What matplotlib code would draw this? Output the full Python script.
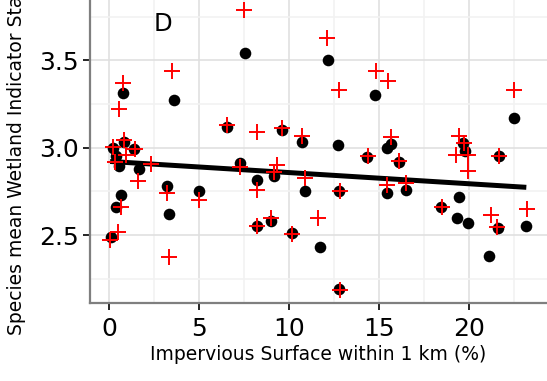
import numpy as np
import matplotlib
matplotlib.use('Agg')
import matplotlib.pyplot as plt

# black dots
dot_x = [0.1, 0.2, 0.4, 0.55, 0.77, 0.8, 1.4, 1.65, 0.65, 0.4,
         3.2, 3.3, 3.6, 5.0, 6.55, 7.3, 7.55, 8.2, 9.15, 10.7,
         10.9, 8.2, 9.0, 10.15, 11.7, 9.6, 12.15, 14.8, 12.75, 15.45,
         15.7, 14.35, 16.1, 12.8, 15.45, 16.5, 12.8, 19.7, 19.8, 21.7,
         18.45, 19.45, 19.35, 19.95, 21.6, 23.2, 21.15, 22.5]
dot_y = [2.49, 3.00, 2.95, 2.895, 3.31, 3.03, 2.99, 2.88, 2.73, 2.66,
         2.78, 2.62, 3.27, 2.75, 3.12, 2.91, 3.54, 2.815, 2.84, 3.03,
         2.75, 2.55, 2.58, 2.51, 2.43, 3.10, 3.50, 3.30, 3.015, 3.0,
         3.02, 2.945, 2.92, 2.75, 2.74, 2.755, 2.19, 3.025, 2.98, 2.955,
         2.66, 2.72, 2.60, 2.57, 2.54, 2.55, 2.38, 3.17]

# red crosses
plus_x = [0.2, 0.55, 0.77, 0.82, 0.3, 0.93, 1.43, 1.6, 2.3, 3.5,
          3.2, 0.65, 0.5, 0.05, 3.3, 5.0, 6.57, 7.3, 7.5, 8.23,
          8.2, 8.2, 8.98, 9.59, 10.7, 9.32, 9.16, 10.87, 10.18, 11.62,
          12.12, 12.78, 14.83, 15.52, 15.7, 14.37, 16.12, 12.83, 15.47, 16.48,
          12.83, 19.45, 19.75, 19.3, 19.95, 19.97, 21.68, 22.5, 18.49, 21.21,
          21.58, 23.25]
plus_y = [3.005, 3.22, 3.37, 3.045, 2.92, 2.96, 2.99, 2.81, 2.905, 3.44,
          2.74, 2.66, 2.52, 2.47, 2.375, 2.70, 3.13, 2.89, 3.79, 3.09,
          2.76, 2.55, 2.595, 3.115, 3.065, 2.90, 2.86, 2.825, 2.505, 2.60,
          3.625, 3.33, 3.44, 3.38, 3.063, 2.95, 2.925, 2.75, 2.785, 2.80,
          2.185, 3.065, 3.025, 2.96, 2.96, 2.865, 2.955, 3.33, 2.66, 2.615,
          2.545, 2.65]

# fitted line end points
fit_x = [0.05, 23.2]
fit_y = [2.921, 2.773]

plt.rcParams['font.family'] = ['DejaVu Sans']

fig = plt.figure(figsize=(5.47, 3.81), dpi=100)
ax = fig.add_axes([90 / 547, 1 - 303 / 381, 1 - 90 / 547, 303 / 381])

ax.scatter(dot_x, dot_y, s=70, color='black', zorder=3, linewidths=0)
ax.plot(fit_x, fit_y, color='black', lw=3.6, solid_capstyle='butt', zorder=4)
ax.plot(plus_x, plus_y, linestyle='none', marker='+', color='red',
        markersize=11.5, markeredgewidth=1.4, zorder=5)

ax.set_xlim(-1.07, 24.35)
ax.set_ylim(2.111, 3.845)
ax.set_xticks([0, 5, 10, 15, 20])
ax.set_yticks([2.5, 3.0, 3.5])
ax.set_yticklabels(['2.5', '3.0', '3.5'])
ax.set_xticks([2.5, 7.5, 12.5, 17.5, 22.5], minor=True)
ax.set_yticks([2.25, 2.75, 3.25, 3.75], minor=True)

ax.grid(which='major', color='#e0e0e0', lw=1.2)
ax.grid(which='minor', color='#f2f2f2', lw=1.2)
ax.set_axisbelow(True)

for s in ['top', 'right']:
    ax.spines[s].set_visible(False)
for s in ['left', 'bottom']:
    ax.spines[s].set_color('#7f7f7f')
    ax.spines[s].set_linewidth(1.6)

ax.tick_params(which='major', direction='out', length=5, width=1.2,
               color='black', labelsize=18, labelcolor='black', pad=3)
ax.tick_params(axis='x', which='major', pad=5)
ax.tick_params(which='minor', length=0)

ax.set_xlabel('Impervious Surface within 1 km (%)', fontsize=13.5, labelpad=3)
fig.text(17 / 547, 1 - 335 / 381, 'Species mean Wetland Indicator Status',
         rotation=90, ha='center', va='bottom', fontsize=13.5)

ax.text(3.0, 3.71, 'D', fontsize=17.5, ha='center', va='center')

fig.savefig('out.png', dpi=100)
